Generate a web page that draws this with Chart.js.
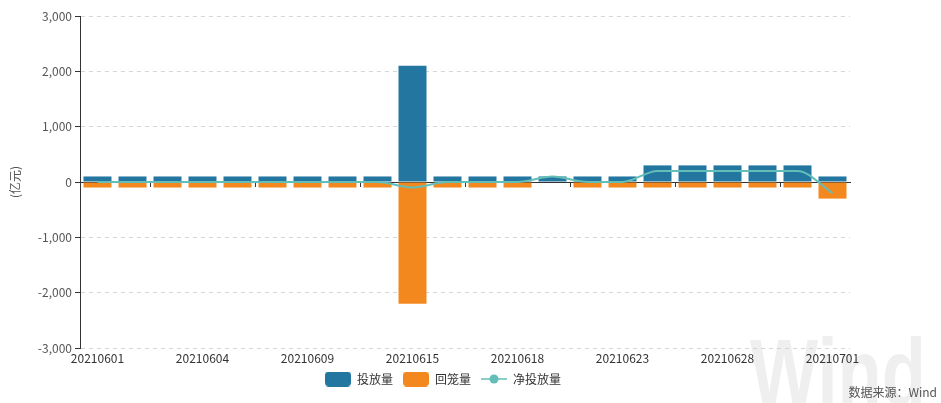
<!DOCTYPE html>
<html>
<head>
<meta charset="utf-8">
<script src="https://cdn.jsdelivr.net/npm/chart.js@4.4.1/dist/chart.umd.min.js"></script>
<style>
  html, body { margin: 0; padding: 0; background: #fff; }
  #wrap { width: 941px; height: 403px; position: relative; }
</style>
</head>
<body>
<div id="wrap"><canvas id="chart"></canvas></div>
<script>
// trading days, June 2021 (0614 was a holiday)
const dates = [
    '20210601', '20210602', '20210603', '20210604', '20210607', '20210608', '20210609',
    '20210610', '20210611', '20210615', '20210616', '20210617', '20210618', '20210621',
    '20210622', '20210623', '20210624', '20210625', '20210628', '20210629', '20210630',
    '20210701'
];
// 投放量 (亿元)
const injection = [100, 100, 100, 100, 100, 100, 100, 100, 100, 2100, 100, 100, 100, 100,
    100, 100, 300, 300, 300, 300, 300, 100];
// 回笼量 (亿元), shown as negative
const withdrawal = [-100, -100, -100, -100, -100, -100, -100, -100, -100, -2200, -100, -100, -100, 0,
    -100, -100, -100, -100, -100, -100, -100, -300];
// 净投放量 (亿元)
const netInjection = [0, 0, 0, 0, 0, 0, 0, 0, 0, -100, 0, 0, 0, 100,
    0, 0, 200, 200, 200, 200, 200, -200];
const yTicks = [-3000, -2000, -1000, 0, 1000, 2000, 3000];

const BLUE = 'rgb(35,118,160)';
const ORANGE = 'rgb(243,137,30)';
const TEAL = 'rgb(98,190,182)';
const FONT = '"Noto Sans CJK SC", "Microsoft YaHei", sans-serif';

Chart.defaults.font.family = FONT;
Chart.defaults.font.size = 12;
Chart.defaults.color = '#333';

// legend symbols drawn on small canvases
function legendIcon(kind, color) {
    const c = document.createElement('canvas');
    const g = c.getContext('2d');
    if (kind === 'bar') {
        c.width = 26; c.height = 15;
        g.fillStyle = color;
        g.beginPath();
        g.roundRect(0, 0, 26, 15, 4);
        g.fill();
    } else {
        c.width = 26; c.height = 12;
        g.strokeStyle = color;
        g.lineWidth = 1.5;
        g.beginPath();
        g.moveTo(0, 6); g.lineTo(26, 6);
        g.stroke();
        g.fillStyle = color;
        g.beginPath();
        g.arc(13, 6, 4.5, 0, Math.PI * 2);
        g.fill();
    }
    return c;
}

const watermark_plugin = {
    id: 'windWatermark',
    afterLayout: (chart) => {
        // legend is centred on the whole canvas in the original, not on the plot
        chart.legend.left += 18;
        chart.legend.right += 18;
    },
    beforeDraw: (chart) => {
        const {ctx} = chart;
        ctx.save();
        ctx.fillStyle = '#ffffff';
        ctx.fillRect(0, 0, chart.width, chart.height);
        ctx.translate(750, 405);
        ctx.scale(0.76, 1);
        ctx.fillStyle = '#efefef';
        ctx.font = 'bold 95px "Liberation Sans", Arial, sans-serif';
        ctx.textBaseline = 'alphabetic';
        ctx.fillText('Wind', 0, 0);
        ctx.restore();
    },
    afterDraw: (chart) => {
        const {ctx} = chart;
        ctx.save();
        ctx.fillStyle = '#555';
        ctx.font = '12px ' + FONT;
        ctx.textAlign = 'right';
        ctx.textBaseline = 'middle';
        ctx.fillText('数据来源：Wind', 937, 392);
        ctx.restore();
    }
};

new Chart(document.getElementById('chart'), {
    type: 'bar',
    data: {
        labels: dates,
        datasets: [
            {
                label: '投放量',
                data: injection,
                backgroundColor: BLUE,
                stack: 'flow',
                order: 1,
                categoryPercentage: 1,
                barPercentage: 0.8,
            },
            {
                label: '回笼量',
                data: withdrawal,
                backgroundColor: ORANGE,
                stack: 'flow',
                order: 1,
                categoryPercentage: 1,
                barPercentage: 0.8,
            },
            {
                type: 'line',
                label: '净投放量',
                data: netInjection,
                borderColor: TEAL,
                backgroundColor: TEAL,
                borderWidth: 2,
                pointRadius: 0,
                cubicInterpolationMode: 'monotone',
                stack: 'net',
                order: 0,
            }
        ]
    },
    options: {
        responsive: true,
        maintainAspectRatio: false,
        animation: false,
        layout: {padding: {left: 0, right: 91, top: 16, bottom: 8}},
        scales: {
            x: {
                stacked: true,
                offset: true,
                grid: {display: false, drawTicks: false},
                border: {display: false},
                ticks: {
                    autoSkip: false,
                    maxRotation: 0,
                    padding: 3,
                    color: '#333',
                    callback: (v, i) => i % 3 === 0 ? dates[i] : '',
                },
                afterFit: s => { s.height = 15; },
            },
            x2: {
                type: 'category',
                labels: dates,
                position: {y: 0},
                offset: true,
                grid: {
                    offset: true,
                    drawOnChartArea: false,
                    drawTicks: true,
                    tickLength: 4,
                    tickColor: c => c.index % 3 === 2 ? '#333' : 'rgba(0,0,0,0)',
                },
                border: {display: true, color: '#333', width: 1},
                ticks: {display: false},
            },
            y: {
                stacked: true,
                min: -3000,
                max: 3000,
                afterBuildTicks: s => { s.ticks = yTicks.map(v => ({value: v})); },
                ticks: {
                    color: '#555',
                    padding: 3,
                    callback: v => v.toLocaleString('en-US'),
                },
                grid: {
                    color: c => c.tick && c.tick.value === 0 ? 'rgba(0,0,0,0)' : '#d6d6d6',
                    tickColor: '#333',
                    tickLength: 5,
                },
                border: {display: true, color: '#333', dash: [4, 4]},
                title: {display: true, text: '(亿元)', color: '#555', padding: {top: 8, bottom: 0}},
                afterFit: s => { s.width = 80; },
            }
        },
        plugins: {
            tooltip: {enabled: false},
            legend: {
                position: 'bottom',
                labels: {
                    usePointStyle: true,
                    pointStyleWidth: 26,
                    padding: 10,
                    color: '#333',
                    generateLabels: chart => chart.data.datasets.map((ds, i) => ({
                        text: ds.label,
                        datasetIndex: i,
                        fontColor: '#333',
                        hidden: !chart.isDatasetVisible(i),
                        lineWidth: 0,
                        strokeStyle: 'rgba(0,0,0,0)',
                        fillStyle: ds.backgroundColor,
                        pointStyle: legendIcon(ds.type === 'line' ? 'line' : 'bar', ds.borderColor || ds.backgroundColor),
                    })),
                },
            },
        }
    },
    plugins: [watermark_plugin]
});
</script>
</body>
</html>
